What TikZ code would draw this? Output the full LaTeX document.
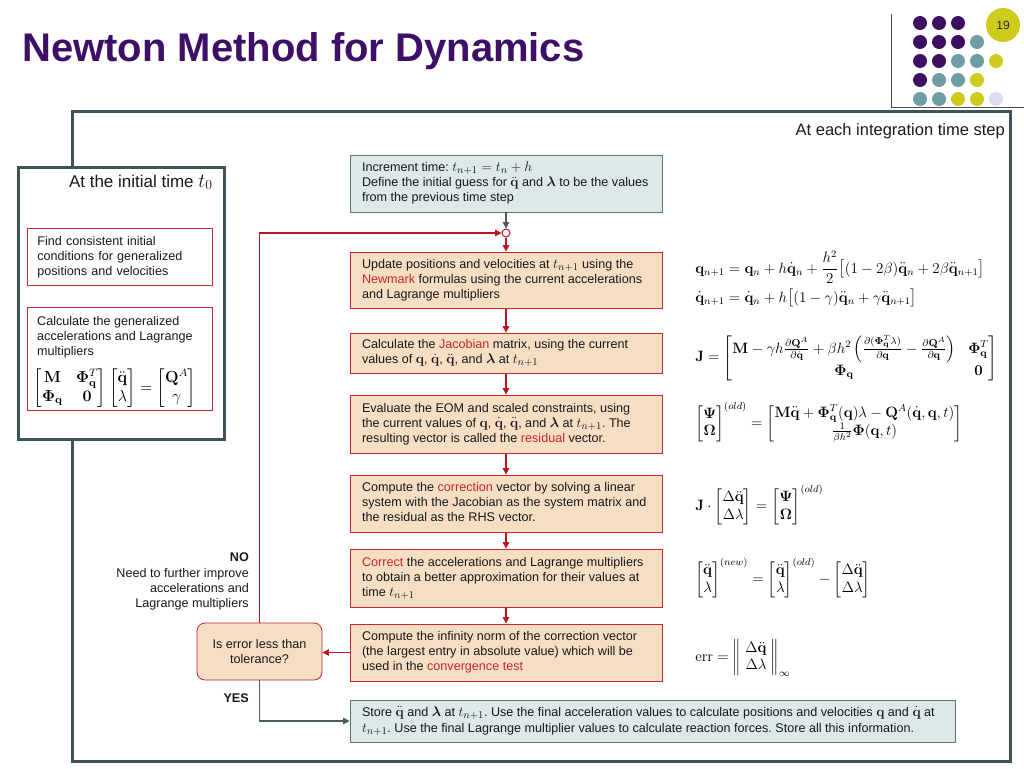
\documentclass[tikz,border=0pt]{standalone}
\usepackage{amsmath,amssymb,bm,graphicx}
\usepackage[no-math]{fontspec}
\setmainfont{Liberation Sans}
\usetikzlibrary{arrows.meta,calc}
\definecolor{titlepurple}{HTML}{3D0F66}
\definecolor{dotpurple}{HTML}{3D0F63}
\definecolor{dotteal}{HTML}{6E9EA3}
\definecolor{dotyellow}{HTML}{CFCB1C}
\definecolor{dotlav}{HTML}{DCDCEE}
\definecolor{framecol}{HTML}{3E5557}
\definecolor{boxred}{HTML}{C0282D}
\definecolor{peach}{HTML}{F5DEC4}
\definecolor{bluefill}{HTML}{DDE8E8}
\definecolor{blueedge}{HTML}{5F7273}
\definecolor{arrred}{HTML}{C0141C}
\definecolor{arrgrey}{HTML}{4B5C5D}
\definecolor{txtred}{HTML}{C8282D}
\newcommand{\hl}[1]{\textcolor{txtred}{#1}}
\newcommand{\qb}{\mathbf{q}}
\newcommand{\im}[1]{\scalebox{1.15}{$#1$}}
\newcommand{\linesw}[2]{\makebox[#1][l]{\begin{tabular}{@{}l@{}}#2\end{tabular}}}
\frenchspacing
\begin{document}
\begin{tikzpicture}[x=1pt,y=-1pt,
  body/.style={font=\fontsize{12.6}{15}\selectfont, text=black!90},
  stepbox/.style={body, draw=boxred, fill=peach, line width=0.8pt, inner xsep=12pt, inner ysep=0pt},
  bluebox/.style={body, draw=blueedge, fill=bluefill, line width=0.8pt, inner xsep=12pt, inner ysep=0pt},
  initred/.style={body, draw=boxred, line width=0.8pt, fill=white, inner xsep=10pt, inner ysep=0pt, align=left},
  redarrow/.style={draw=arrred, line width=1.3pt, -{Triangle[length=6.5pt,width=6.5pt]}},
  greyarrow/.style={draw=arrgrey, line width=1.3pt, -{Triangle[length=6.5pt,width=6.5pt]}},
  eq/.style={font=\fontsize{12}{14}\selectfont, inner sep=0pt, anchor=west, scale=1.25, transform shape},
  lbl/.style={body, inner sep=0pt, anchor=base east},
  framestyle/.style={draw=framecol, line width=3pt}
]
\useasboundingbox (0,0) rectangle (1024,768);

% title
\node[anchor=base west, inner sep=0pt, text=titlepurple, font=\fontsize{40}{44}\selectfont\bfseries] (title) at (22,62) {Newton Method for Dynamics};

% logo corner
\draw[draw=black!70, line width=0.8pt] (891,14) -- (891,107) -- (1024,107);
\foreach \c/\x/\y in {dotpurple/920/23, dotpurple/939/23, dotpurple/958/23,
  dotpurple/920/42, dotpurple/939/42, dotpurple/958/42, dotteal/977/42,
  dotpurple/920/61, dotpurple/939/61, dotteal/958/61, dotteal/977/61, dotyellow/996/61,
  dotpurple/920/80, dotteal/939/80, dotteal/958/80, dotyellow/977/80,
  dotteal/920/99, dotteal/939/99, dotyellow/958/99, dotyellow/977/99, dotlav/996/99}
  \fill[\c] (\x,\y) circle[radius=7];
\node[circle, fill=dotyellow, minimum size=34pt, inner sep=0pt, font=\fontsize{12}{14}\selectfont, text=black!85] (pagenum) at (1003,25) {19};

% outer frame
\draw[framestyle] (72,111) rectangle (1010,761);
\node[body, font=\fontsize{16.5}{18}\selectfont, inner sep=0pt, anchor=base east] (steplbl) at (1005,135) {At each integration time step};

% initial box
\node[framestyle, fill=white, minimum width=206pt, minimum height=272pt, anchor=north west, inner sep=0pt] (init) at (17,166) {};
\node[body, font=\fontsize{17}{19}\selectfont, inner sep=0pt, anchor=base east] (initlbl) at (213,187) {At the initial time \scalebox{1.15}{$t_0$}};
\node[initred, text width=165pt, minimum height=57pt, anchor=north west] (ic1) at (27,228) {Find consistent initial\\conditions for generalized\\positions and velocities};
\node[initred, minimum width=185pt, minimum height=103pt, anchor=north west] (ic2) at (27,307) {};
\node[body, align=left, inner sep=0pt, anchor=north west] (ic2txt) at (37,316) {Calculate the generalized\\accelerations and Lagrange\\multipliers};
\node[eq, anchor=center, scale=1.07] (ic2eq) at (115,388) {$\begin{bmatrix}\mathbf M & \bm\Phi_{\qb}^T\\ \bm\Phi_{\qb} & \mathbf 0\end{bmatrix}\begin{bmatrix}\ddot{\qb}\\ \lambda\end{bmatrix}=\begin{bmatrix}\mathbf Q^A\\ \gamma\end{bmatrix}$};

% main column
\node[bluebox, minimum height=57pt] (inc) at (506,183.5) {\linesw{288pt}{Increment time: \im{t_{n+1}=t_n+h}\\Define the initial guess for \im{\ddot{\qb}} and \im{\bm\lambda} to be the values\\from the previous time step}};
\node[circle, draw=arrred, fill=white, line width=1pt, minimum size=8pt, inner sep=0pt] (junc) at (506,233) {};
\node[stepbox, minimum height=56pt] (b1) at (506,280) {\linesw{288pt}{Update positions and velocities at \im{t_{n+1}} using the\\\hl{Newmark} formulas using the current accelerations\\and Lagrange multipliers}};
\node[stepbox, minimum height=40pt] (b2) at (506,353) {\linesw{288pt}{Calculate the \hl{Jacobian} matrix, using the current\\values of \im{\qb}, \im{\dot{\qb}}, \im{\ddot{\qb}}, and \im{\bm\lambda} at \im{t_{n+1}}}};
\node[stepbox, minimum height=58pt] (b3) at (506,424) {\linesw{288pt}{Evaluate the EOM and scaled constraints, using\\the current values of \im{\qb}, \im{\dot{\qb}}, \im{\ddot{\qb}}, and \im{\bm\lambda} at \im{t_{n+1}}. The\\resulting vector is called the \hl{residual} vector.}};
\node[stepbox, minimum height=57pt] (b4) at (506,503.5) {\linesw{288pt}{Compute the \hl{correction} vector by solving a linear\\system with the Jacobian as the system matrix and\\the residual as the RHS vector.}};
\node[stepbox, minimum height=58pt] (b5) at (506,578) {\linesw{288pt}{\hl{Correct} the accelerations and Lagrange multipliers\\to obtain a better approximation for their values at\\time \im{t_{n+1}}}};
\node[stepbox, minimum height=57pt] (b6) at (506,652.5) {\linesw{288pt}{Compute the infinity norm of the correction vector\\(the largest entry in absolute value) which will be\\used in the \hl{convergence test}}};
\node[body, draw=boxred, fill=peach, line width=0.8pt, rounded corners=8pt, minimum width=125pt, minimum height=57pt, align=center, inner sep=0pt] (dec) at (259.5,651.5) {Is error less than\\tolerance?};
\node[bluebox, font=\fontsize{12.6}{16.5}\selectfont, minimum height=42pt] (store) at (652.5,721) {\linesw{581pt}{Store \im{\ddot{\qb}} and \im{\bm\lambda} at \im{t_{n+1}}. Use the final acceleration values to calculate positions and velocities \im{\qb} and \im{\dot{\qb}} at\\\im{t_{n+1}}. Use the final Lagrange multiplier values to calculate reaction forces. Store all this information.}};

% connectors
\draw[greyarrow] (inc.south) -- (junc.north);
\draw[redarrow] (junc.south) -- (b1.north);
\draw[redarrow] (b1.south) -- (b2.north);
\draw[redarrow] (b2.south) -- (b3.north);
\draw[redarrow] (b3.south) -- (b4.north);
\draw[redarrow] (b4.south) -- (b5.north);
\draw[redarrow] (b5.south) -- (b6.north);
\draw[redarrow] (b6.west) -- (b6.west -| dec.east);
\draw[redarrow] (dec.north) |- (junc.west);
\draw[greyarrow] (dec.south) |- (store.west);

% labels
\node[lbl, font=\fontsize{12.6}{15}\selectfont\bfseries] (no) at (249,561) {NO};
\node[lbl] (no1) at (249,577) {Need to further improve};
\node[lbl] (no2) at (249,592) {accelerations and};
\node[lbl] (no3) at (249,607) {Lagrange multipliers};
\node[lbl, font=\fontsize{12.6}{15}\selectfont\bfseries] (yes) at (249,702) {YES};

% equations
\node[eq, anchor=base west] (nm1) at (695,273) {$\qb_{n+1}=\qb_n+h\dot{\qb}_n+\dfrac{h^2}{2}\bigl[(1-2\beta)\ddot{\qb}_n+2\beta\ddot{\qb}_{n+1}\bigr]$};
\node[eq, anchor=base west] (nm2) at (695,302) {$\dot{\qb}_{n+1}=\dot{\qb}_n+h\bigl[(1-\gamma)\ddot{\qb}_n+\gamma\ddot{\qb}_{n+1}\bigr]$};
\node[eq] (jac) at (695,358) {$\mathbf J=\begin{bmatrix}\mathbf M-\gamma h\tfrac{\partial\mathbf Q^A}{\partial\dot{\qb}}+\beta h^2\left(\tfrac{\partial(\bm\Phi_{\qb}^T\lambda)}{\partial\qb}-\tfrac{\partial\mathbf Q^A}{\partial\qb}\right) & \bm\Phi_{\qb}^T\\ \bm\Phi_{\qb} & \mathbf 0\end{bmatrix}$};
\node[eq] (res) at (695,422) {$\begin{bmatrix}\bm\Psi\\ \bm\Omega\end{bmatrix}^{(old)}=\begin{bmatrix}\mathbf M\ddot{\qb}+\bm\Phi_{\qb}^T(\qb)\lambda-\mathbf Q^A(\dot{\qb},\qb,t)\\ \tfrac{1}{\beta h^2}\bm\Phi(\qb,t)\end{bmatrix}$};
\node[eq] (lin) at (695,505) {$\mathbf J\cdot\begin{bmatrix}\Delta\ddot{\qb}\\ \Delta\lambda\end{bmatrix}=\begin{bmatrix}\bm\Psi\\ \bm\Omega\end{bmatrix}^{(old)}$};
\node[eq] (upd) at (695,578) {$\begin{bmatrix}\ddot{\qb}\\ \lambda\end{bmatrix}^{(new)}=\begin{bmatrix}\ddot{\qb}\\ \lambda\end{bmatrix}^{(old)}-\begin{bmatrix}\Delta\ddot{\qb}\\ \Delta\lambda\end{bmatrix}$};
\node[eq] (err) at (695,658) {$\mathrm{err}=\left\|\;\begin{matrix}\Delta\ddot{\qb}\\ \Delta\lambda\end{matrix}\;\right\|_\infty$};
\end{tikzpicture}
\end{document}
